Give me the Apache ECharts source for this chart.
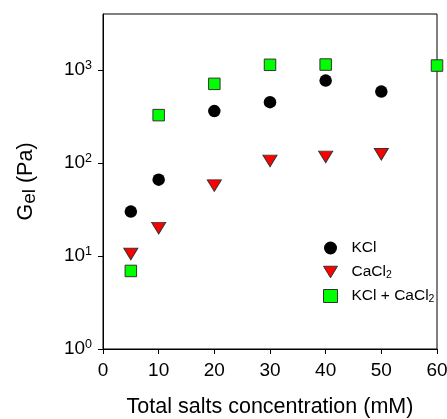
<!DOCTYPE html>
<html><head><meta charset="utf-8">
<script src="https://cdn.jsdelivr.net/npm/echarts@6/dist/echarts.min.js"></script>
<style>html,body{margin:0;padding:0;background:#fff}#c{width:447px;height:419px}</style>
</head><body><div id="c"></div>
<script>
const seriesNames = ['KCl', 'CaCl₂', 'KCl + CaCl₂'];
const kclX = [5, 10, 20, 30, 40, 50];
const kclY = [30, 66, 360, 449, 767, 584];
const caclX = [5, 10, 20, 30, 40, 50];
const caclY = [10.5, 19.9, 57, 105, 116, 124];
const mixX = [5, 10, 20, 30, 40, 60];
const mixY = [6.9, 326, 707, 1132, 1140, 1112];
const xTicks = [0, 10, 20, 30, 40, 50, 60];
const yTicks = [1, 10, 100, 1000];

const FONT = "'Liberation Sans', Arial, sans-serif";
const pair = (xs, ys) => xs.map((x, i) => [x, ys[i]]);
const triDown = 'path://M0,0 L14,0 L7,11.5 Z';

const redStyle = {color: '#ff0000', borderColor: '#333', borderWidth: 1, opacity: 1};
const greenStyle = {color: '#00ff00', borderColor: '#333', borderWidth: 1, opacity: 1};
const blackStyle = {color: '#000', opacity: 1};

const legendLabel = n => {
  const i = n.indexOf('₂');
  return i < 0 ? '{n|' + n + '}' : '{n|' + n.slice(0, i) + '}{s|2}';
};

const chart = echarts.init(document.getElementById('c'), null, {renderer: 'canvas'});
chart.setOption({
  animation: false,
  backgroundColor: '#fff',
  textStyle: {fontFamily: FONT},
  grid: {left: 103, right: 10, top: 14, bottom: 70, show: true, borderColor: '#000', borderWidth: 1,
    backgroundColor: 'transparent', containLabel: false, outerBoundsMode: 'none'},
  legend: {
    orient: 'vertical', left: 318, top: 234,
    itemWidth: 14, itemHeight: 13, itemGap: 6,
    data: [
      {name: seriesNames[0], icon: 'circle', itemStyle: blackStyle},
      {name: seriesNames[1], icon: triDown, itemStyle: redStyle},
      {name: seriesNames[2], icon: 'rect', itemStyle: greenStyle}
    ],
    formatter: legendLabel,
    textStyle: {
      fontFamily: FONT, color: '#000', fontSize: 15.5, lineHeight: 18, padding: [0, 0, 0, 9],
      rich: {
        n: {fontFamily: FONT, fontSize: 15.5, lineHeight: 18, color: '#000'},
        s: {fontFamily: FONT, fontSize: 10.5, lineHeight: 10, verticalAlign: 'bottom', color: '#000'}
      }
    }
  },
  xAxis: {
    type: 'value', min: 0, max: 60, interval: 10,
    name: 'Total salts concentration (mM)', nameLocation: 'middle', nameGap: 47,
    nameTextStyle: {fontFamily: FONT, fontSize: 21.5, color: '#000'},
    axisLine: {show: true, lineStyle: {color: '#000', width: 1}},
    axisTick: {show: true, inside: false, length: 5, lineStyle: {color: '#000'}},
    axisLabel: {fontFamily: FONT, fontSize: 19, color: '#000', margin: 12,
      customValues: xTicks},
    splitLine: {show: false}
  },
  yAxis: {
    type: 'log', logBase: 10, min: 1, max: 3981,
    name: '{g|G}{e|el}{g| (Pa)}', nameLocation: 'middle', nameGap: 64,
    nameTextStyle: {fontFamily: FONT, fontSize: 21.5, color: '#000',
      rich: {
        g: {fontFamily: FONT, fontSize: 21.5, lineHeight: 26, color: '#000'},
        e: {fontFamily: FONT, fontSize: 19, lineHeight: 19, verticalAlign: 'bottom', color: '#000'}
      }},
    axisLine: {show: true, lineStyle: {color: '#000', width: 1}},
    axisTick: {show: true, inside: false, length: 5, lineStyle: {color: '#000'}, customValues: yTicks},
    minorTick: {show: false},
    axisLabel: {
      fontFamily: FONT, margin: 11, color: '#000',
      customValues: yTicks,
      formatter: v => '{b|10}{s|' + Math.round(Math.log10(v)) + '}',
      rich: {
        b: {fontFamily: FONT, fontSize: 19, lineHeight: 22, color: '#000'},
        s: {fontFamily: FONT, fontSize: 12.5, lineHeight: 13, verticalAlign: 'top', color: '#000'}
      }
    },
    splitLine: {show: false}
  },
  series: [
    {name: seriesNames[0], type: 'scatter', data: pair(kclX, kclY), symbol: 'circle', symbolSize: 12.5,
     itemStyle: blackStyle},
    {name: seriesNames[1], type: 'scatter', data: pair(caclX, caclY), symbol: 'triangle', symbolRotate: 180, symbolSize: [14, 11.5],
     itemStyle: redStyle},
    {name: seriesNames[2], type: 'scatter', data: pair(mixX, mixY), symbol: 'rect', symbolSize: 11.5,
     itemStyle: greenStyle}
  ]
});
</script></body></html>
